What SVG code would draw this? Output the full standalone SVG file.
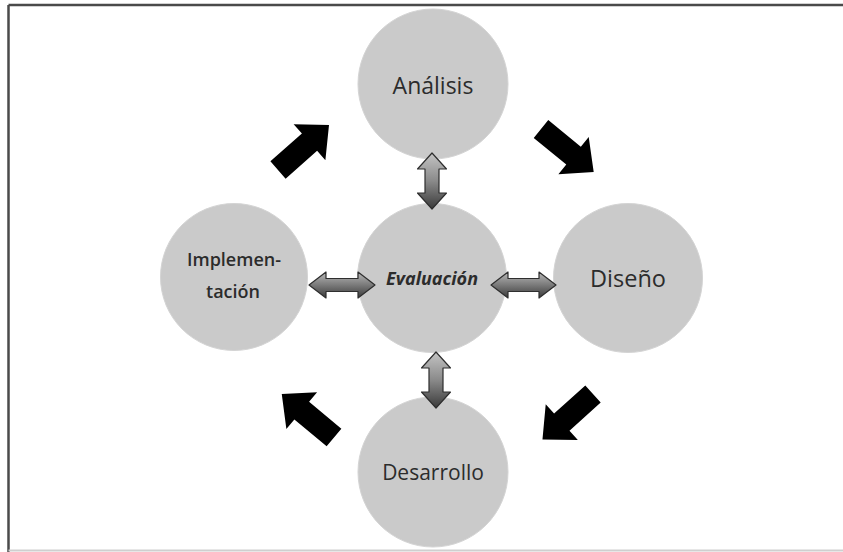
<svg xmlns="http://www.w3.org/2000/svg" width="843" height="552" viewBox="0 0 843 552">
  <defs>
    <linearGradient id="gv" x1="0" y1="0" x2="0" y2="1">
      <stop offset="0" stop-color="#c4c4c4"/>
      <stop offset="0.5" stop-color="#8a8a8a"/>
      <stop offset="1" stop-color="#3a3a3a"/>
    </linearGradient>
    <linearGradient id="gh" x1="0" y1="0" x2="0" y2="1">
      <stop offset="0" stop-color="#b8b8b8"/>
      <stop offset="0.5" stop-color="#7a7a7a"/>
      <stop offset="1" stop-color="#3a3a3a"/>
    </linearGradient>
    <path id="blk" d="M0,-11.5 L42,-11.5 L42,-24 L68,0 L42,24 L42,11.5 L0,11.5 Z"/>
  </defs>
  <style>
    .node circle { fill: #cacaca; stroke: #d4d4d4; stroke-width: 1; }
    .lbl { font-family: "Open Sans", "Liberation Sans", sans-serif; fill: #2c2c2c; text-anchor: middle; font-weight: 500; }
    .lbl.semi { font-weight: 600; }
    .lbl.ev { font-weight: bold; font-style: italic; }
    .dbl { stroke: #2e2e2e; stroke-width: 1.2; stroke-linejoin: round; }
    .blk { fill: #000; }
  </style>
  <rect width="843" height="552" fill="#ffffff"/>
  <g id="frame">
    <line x1="8.5" y1="5" x2="843" y2="5" stroke="#4a4a4a" stroke-width="2.5"/>
    <line x1="8.5" y1="5" x2="8.5" y2="552" stroke="#4a4a4a" stroke-width="2.5"/>
    <line x1="8.5" y1="550.5" x2="843" y2="550.5" stroke="#cfcfcf" stroke-width="2"/>
  </g>
  <g id="analisis" class="node">
    <circle cx="433" cy="84" r="75"/>
    <text class="lbl" x="433" y="94" font-size="23">Análisis</text>
  </g>
  <g id="evaluacion" class="node">
    <circle cx="432" cy="278" r="74.5"/>
    <text class="lbl ev" x="432" y="285" font-size="18">Evaluación</text>
  </g>
  <g id="implementacion" class="node">
    <circle cx="234" cy="277" r="73.5"/>
    <text class="lbl semi" x="234" y="266" font-size="18">Implemen-</text>
    <text class="lbl semi" x="233" y="298" font-size="18">tación</text>
  </g>
  <g id="diseno" class="node">
    <circle cx="628" cy="278" r="74.5"/>
    <text class="lbl" x="628" y="287" font-size="23.5">Diseño</text>
  </g>
  <g id="desarrollo" class="node">
    <circle cx="433" cy="472" r="75"/>
    <text class="lbl" x="433" y="480" font-size="21">Desarrollo</text>
  </g>
  <g id="connectors">
    <path class="dbl" fill="url(#gv)" d="M432,153 L446.5,169 L439,169 L439,193 L446.5,193 L432,209 L417.5,193 L425,193 L425,169 L417.5,169 Z"/>
    <path class="dbl" fill="url(#gv)" d="M436,352 L450.5,368 L443,368 L443,392 L450.5,392 L436,408 L421.5,392 L429,392 L429,368 L421.5,368 Z"/>
    <path class="dbl" fill="url(#gh)" d="M309,285 L326,272 L326,278.5 L358,278.5 L358,272 L375,285 L358,298 L358,291.5 L326,291.5 L326,298 Z"/>
    <path class="dbl" fill="url(#gh)" d="M491,285 L508,272 L508,278.5 L539,278.5 L539,272 L556,285 L539,298 L539,291.5 L508,291.5 L508,298 Z"/>
    <use href="#blk" class="blk" transform="translate(278,170) rotate(-41.4)"/>
    <use href="#blk" class="blk" transform="translate(541,129) rotate(39.2)"/>
    <use href="#blk" class="blk" transform="translate(334,437.5) rotate(-140.2)"/>
    <use href="#blk" class="blk" transform="translate(593,394) rotate(138)"/>
  </g>
</svg>
